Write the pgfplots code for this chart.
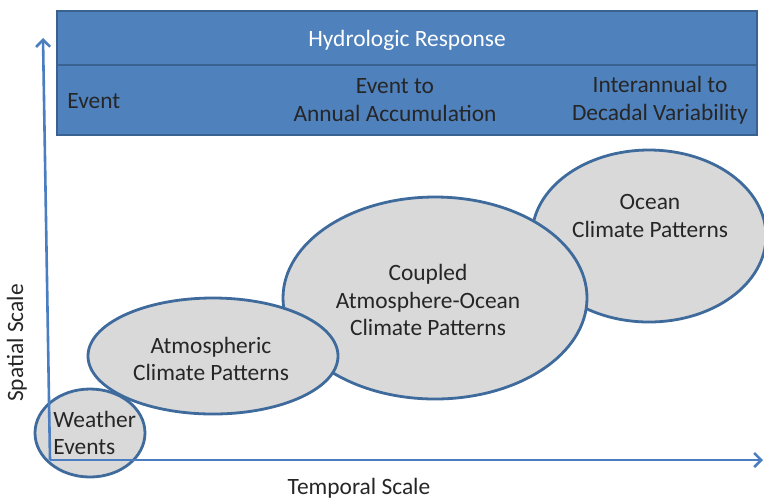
\documentclass[border=0pt]{standalone}
\usepackage{fontspec}
\setmainfont{Carlito}
\usepackage{pgfplots}
\pgfplotsset{compat=1.18}
\usetikzlibrary{arrows.meta}
\definecolor{boxblue}{HTML}{4F81BD}
\definecolor{boxedge}{HTML}{3A6290}
\definecolor{elledge}{HTML}{3E6A9C}
\definecolor{ellfill}{HTML}{D9D9D9}
\definecolor{axblue}{HTML}{4A7EC0}
\definecolor{txt}{HTML}{262626}
\tikzset{lbl/.style={font=\fontsize{11.7}{13.8}\selectfont, text=txt, inner sep=0pt, align=center}}
\begin{document}
\begin{tikzpicture}
\begin{axis}[
  scale only axis, width=382pt, height=250pt,
  xmin=0, xmax=764, ymin=0, ymax=500, y dir=reverse,
  hide axis, clip=false,
]
% header box
\draw[fill=boxblue, draw=boxedge, line width=1pt] (axis cs:57,11) rectangle (axis cs:757,135);
\draw[boxedge, line width=1pt] (axis cs:57,65) -- (axis cs:757,65);
\node[lbl, text=white] at (axis cs:407,40) {Hydrologic Response};
\node[lbl, anchor=west] at (axis cs:67,101) {Event};
\node[lbl] at (axis cs:395,100) {Event to\\Annual Accumulation};
\node[lbl] at (axis cs:660,100) {Interannual to\\Decadal Variability};
% ellipses
\draw[draw=elledge, fill=ellfill, line width=1.4pt] (axis cs:649,236) ellipse [x radius=117, y radius=86];
\draw[draw=elledge, fill=ellfill, line width=1.4pt] (axis cs:435,298) ellipse [x radius=152, y radius=101];
\draw[draw=elledge, fill=ellfill, line width=1.4pt] (axis cs:213,356) ellipse [x radius=125, y radius=58];
\draw[draw=elledge, fill=ellfill, line width=1.4pt] (axis cs:90,433) ellipse [x radius=55, y radius=44];
% axes arrows
\draw[axblue, line width=1.3pt, -{Straight Barb[length=3.5pt,width=7pt]}] (axis cs:50,460) -- (axis cs:43,38);
\draw[axblue, line width=1.3pt, -{Straight Barb[length=3.5pt,width=7pt]}] (axis cs:50,460) -- (axis cs:763,460);
% ellipse labels
\node[lbl] at (axis cs:650,216) {Ocean\\Climate Patterns};
\node[lbl] at (axis cs:428,300) {Coupled\\Atmosphere-Ocean\\Climate Patterns};
\node[lbl] at (axis cs:211,359) {Atmospheric\\Climate Patterns};
\node[lbl, anchor=west, align=left] at (axis cs:53,433) {Weather\\Events};
% axis titles
\node[lbl, rotate=90] at (axis cs:17,343) {Spatial Scale};
\node[lbl] at (axis cs:359,488) {Temporal Scale};
\end{axis}
\pgfresetboundingbox
\path[use as bounding box] (0,0) rectangle (382pt,250pt);
\end{tikzpicture}
\end{document}
